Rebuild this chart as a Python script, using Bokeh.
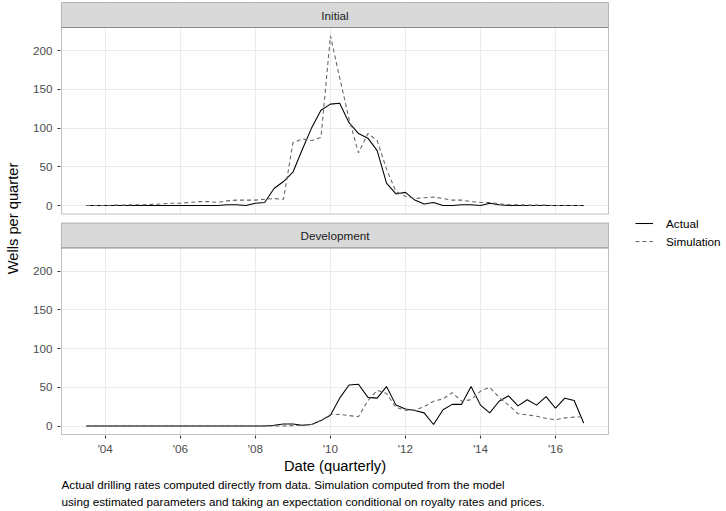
import pandas as pd
from bokeh.plotting import figure
from bokeh.models import (Range1d, FixedTicker, CustomJSTickFormatter, DatetimeTickFormatter,
                          BoxAnnotation, Label, Legend, LegendItem, Title)
from bokeh.embed import file_html
from bokeh.resources import INLINE

# ---- data -------------------------------------------------------------
quarters = pd.date_range("2003-07-01", "2016-10-01", freq="QS")  # 2003Q3 .. 2016Q4

initial_actual = [0, 0, 0, 0, 0, 0, 0, 0, 0, 0, 0, 0, 0, 0, 0,
                  1, 1, 0, 3, 4, 22, 31, 43, 72, 100, 123, 131, 132, 107, 93,
                  87, 71, 29, 15, 17, 7, 2, 4, 0, 0, 1, 1, 0, 3, 1,
                  0, 0, 0, 0, 0, 0, 0, 0, 0]
initial_sim = [0, 0, 0, 0.5, 0.5, 1, 1, 1.5, 2, 3, 3, 4, 5, 5, 4,
               6, 7, 7, 7, 8, 9, 8, 81, 86, 84, 88, 219, 165, 112, 68,
               93, 84, 47, 18, 12, 9, 10, 11, 9, 7, 7, 5, 4, 4, 2,
               1, 1, 0.5, 0.5, 0.5, 0, 0, 0, 0]
dev_actual = [0, 0, 0, 0, 0, 0, 0, 0, 0, 0, 0, 0, 0, 0, 0, 0, 0, 0, 0, 0,
              1, 2.5, 2.5, 1, 2, 7, 14, 36, 53, 54, 37, 36, 51, 27, 22,
              20, 17, 2, 21, 28, 28, 51, 27, 17, 32, 39, 26, 34, 27, 38,
              23, 36, 33, 4]
dev_sim = [0, 0, 0, 0, 0, 0, 0, 0, 0, 0, 0, 0, 0, 0, 0, 0, 0, 0, 0, 0, 0, 0,
           0.5, 1, 2, 7, 15, 15, 13.5, 12, 33, 46, 42, 24, 20.5, 20.5, 25,
           32, 35, 43, 32, 34, 45, 50, 37, 27, 16, 14.5, 12.5, 10, 8,
           10.5, 11.5, 12]

panels = ["Initial", "Development"]
series = ["Actual", "Simulation"]
y_ticks = [0, 50, 100, 150, 200]
x_tick_years = [2004, 2006, 2008, 2010, 2012, 2014, 2016]
x_title = "Date (quarterly)"
y_title = "Wells per quarter"
caption = ["Actual drilling rates computed directly from data. Simulation computed from the model",
           "using estimated parameters and taking an expectation conditional on royalty rates and prices."]

# ---- layout (pixels) ---------------------------------------------------
W, H = 726, 511
PANEL_L, PANEL_R, PANEL_T = 61, 608, 2      # outer edges of the facet block
STRIP_H, GAP, PANEL_H = 25, 9, 186.5
BLOCK_H = 2 * STRIP_H + 2 * PANEL_H + GAP
PAD = 1                                     # frame margin so borders are not clipped
B_LEFT, B_TOP = PANEL_L - PAD, PANEL_T - PAD
B_BOTTOM = int(round(H - PANEL_T - BLOCK_H - PAD))
LEG_X, LEG_TOP = 635, 214                   # legend block position
X_TITLE_W = 102                             # rendered width of the x title

FONT = "Liberation Sans"
GRID = "#EBEBEB"
DARK = "#333333"
LW = 1.07

# shared y scale (fixed across facets), 5% expansion
vmax = max(max(initial_actual), max(initial_sim), max(dev_actual), max(dev_sim))
ylo, yhi = -0.05 * vmax, 1.05 * vmax
u = (yhi - ylo) / PANEL_H               # data units per pixel
offset = (PANEL_H + STRIP_H + GAP) * u  # shift of the upper facet
ytop = ylo + BLOCK_H * u                # top edge of the upper strip

# x scale with 5% expansion; the frame runs on to the right edge to hold the legend
x0 = quarters[0].value / 1e6
x1 = quarters[-1].value / 1e6
xpad = 0.05 * (x1 - x0)
xl, xr = x0 - xpad, x1 + xpad
ux = (xr - xl) / (PANEL_R - PANEL_L)

p = figure(width=W, height=H, x_axis_type="datetime",
           x_range=Range1d(xl - PAD * ux, xl + (W - PANEL_L) * ux),
           y_range=Range1d(ylo - PAD * u, ytop + PAD * u),
           min_border_left=B_LEFT, min_border_right=0,
           min_border_top=B_TOP, min_border_bottom=B_BOTTOM,
           output_backend="svg", toolbar_location=None)
p.extra_y_ranges = {"initial": Range1d(ylo - PAD * u - offset, ytop + PAD * u - offset)}
p.outline_line_color = None
p.background_fill_color = "white"
p.border_fill_color = "white"

# ---- grids ------------------------------------------------------------
x_ticks = [pd.Timestamp(f"{y}-01-01").value / 1e6 for y in x_tick_years]
y_all = y_ticks + [t + offset for t in y_ticks]
xticker = FixedTicker(ticks=x_ticks)
yticker = FixedTicker(ticks=y_all)
p.xgrid.ticker = xticker
p.ygrid.ticker = yticker
for g in (p.xgrid[0], p.ygrid[0]):
    g.grid_line_color = GRID
    g.grid_line_width = LW
    g.minor_grid_line_color = None

# ---- axes -------------------------------------------------------------
ax = p.yaxis[0]
ax.ticker = yticker
ax.formatter = CustomJSTickFormatter(args=dict(off=offset, cut=yhi), code="""
    const v = tick > cut ? tick - off : tick;
    return Math.round(v).toString();
""")
ax.axis_label = y_title
ax.major_label_standoff = 5
ax.axis_label_standoff = 9

xa = p.xaxis[0]
xa.ticker = xticker
xa.formatter = DatetimeTickFormatter(years="'%y", months="'%y", days="'%y")
xa.major_label_standoff = 3

for a in (ax, xa):
    a.axis_line_color = None
    a.major_tick_line_color = DARK
    a.major_tick_line_width = LW
    a.major_tick_out = 3
    a.major_tick_in = 0
    a.minor_tick_line_color = None
    a.major_label_text_font = FONT
    a.major_label_text_font_size = "11.7px"
    a.major_label_text_color = "#4D4D4D"
    a.axis_label_text_font = FONT
    a.axis_label_text_font_size = "14.7px"
    a.axis_label_text_font_style = "normal"
    a.axis_label_text_color = "black"

# ---- facet decoration -------------------------------------------------
white = dict(fill_color="white", fill_alpha=1, line_color=None)
p.add_layout(BoxAnnotation(right=xl, **white))          # frame margins
p.add_layout(BoxAnnotation(left=xr, **white))
p.add_layout(BoxAnnotation(bottom=ytop, **white))
p.add_layout(BoxAnnotation(top=ylo, **white))
p.add_layout(BoxAnnotation(bottom=yhi + STRIP_H * u, top=yhi + (STRIP_H + GAP) * u, **white))

xmid = (xl + xr) / 2
for name, base in ((panels[0], offset), (panels[1], 0.0)):
    p.add_layout(BoxAnnotation(left=xl, right=xr,
                               bottom=base + yhi, top=base + yhi + STRIP_H * u,
                               fill_color="#D9D9D9", fill_alpha=1,
                               line_color=DARK, line_width=LW))
    p.add_layout(BoxAnnotation(left=xl, right=xr, bottom=base + ylo, top=base + yhi,
                               fill_color=None, line_color=DARK, line_width=LW))
    p.add_layout(Label(x=xmid, y=base + yhi + STRIP_H * u / 2, text=name,
                       text_align="center", text_baseline="middle",
                       text_font=FONT, text_font_size="11.7px", text_color="#1A1A1A"))

# ---- series -----------------------------------------------------------
SIM_COLOR = "#666666"
p.line(quarters, initial_actual, y_range_name="initial", line_color="black", line_width=LW)
p.line(quarters, initial_sim, y_range_name="initial", line_color=SIM_COLOR,
       line_width=LW, line_dash="4 3")
r_act = p.line(quarters, dev_actual, line_color="black", line_width=LW)
r_sim = p.line(quarters, dev_sim, line_color=SIM_COLOR, line_width=LW, line_dash="4 3")

KEY = 18
frame_bottom = PANEL_T + BLOCK_H + PAD
legend = Legend(items=[LegendItem(label=series[0], renderers=[r_act]),
                       LegendItem(label=series[1], renderers=[r_sim])],
                location=(LEG_X - B_LEFT, frame_bottom - (LEG_TOP + 2 * KEY)),
                orientation="vertical",
                border_line_color=None, background_fill_alpha=0,
                padding=0, margin=0, spacing=0,
                glyph_width=KEY, glyph_height=KEY, label_height=KEY,
                label_standoff=13, label_text_font=FONT,
                label_text_font_size="11.7px", label_text_color="black")
p.add_layout(legend, "center")

# ---- x title (centred under the facets) and caption ---------------------
p.add_layout(Title(text=x_title, align="left", text_font=FONT, text_font_size="14.7px",
                   text_font_style="normal", text_color="black", standoff=-4,
                   offset=PAD + (PANEL_R - PANEL_L) / 2 - X_TITLE_W / 2), "below")
for i, line in enumerate(caption):
    t = Title(text=line, align="left", text_font=FONT, text_font_size="11.7px",
              text_font_style="normal", text_color="black",
              standoff=9 if i == 0 else -6, offset=PAD)
    p.add_layout(t, "below")

open("out.html", "w").write(file_html(p, INLINE))
